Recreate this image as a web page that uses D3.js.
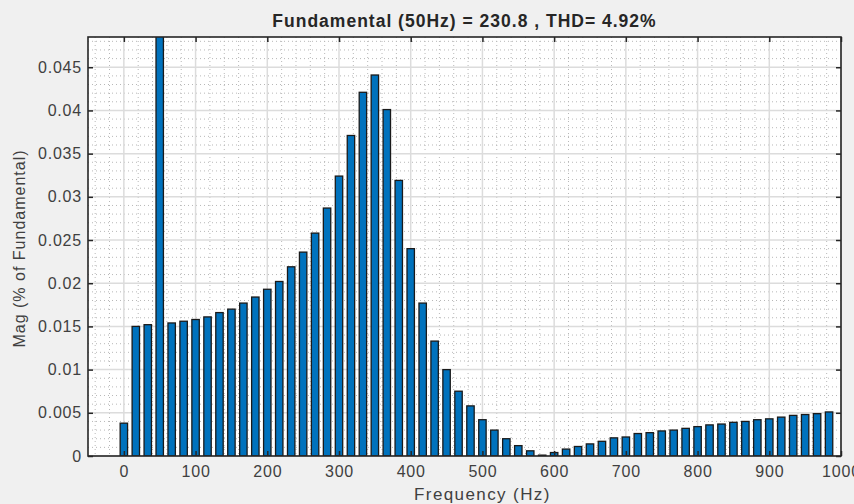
<!DOCTYPE html>
<html>
<head>
<meta charset="utf-8">
<script src="https://cdn.jsdelivr.net/npm/d3@7"></script>
<style>
  body { margin: 0; background: #f0f0f0; }
  svg { display: block; font-family: "Liberation Sans", Arial, sans-serif; }
</style>
</head>
<body>
<div id="chart"></div>
<script>
// harmonic bins every 50/3 Hz, magnitudes in % of fundamental
const binStep = 50 / 3;
const mags = [
  0.0038, 0.0150, 0.0152, 100, 0.0154, 0.0156, 0.0158, 0.0161, 0.0166, 0.0170,
  0.0177, 0.0184, 0.0193, 0.0202, 0.0219, 0.0236, 0.0258, 0.0287, 0.0324, 0.0371,
  0.0421, 0.0441, 0.0401, 0.0319, 0.0240, 0.0177, 0.0133, 0.0100, 0.0075, 0.0058,
  0.0042, 0.0030, 0.0020, 0.0012, 0.0006, 0.0001, 0.0004, 0.0008, 0.0011, 0.0014,
  0.0017, 0.0021, 0.0022, 0.0026, 0.0027, 0.0029, 0.0030, 0.0032, 0.0034, 0.0036,
  0.0037, 0.0039, 0.0040, 0.0042, 0.0043, 0.0045, 0.0047, 0.0048, 0.0049, 0.0051
];
const freqs = mags.map((m, i) => i * binStep);
const xTicks = [0, 100, 200, 300, 400, 500, 600, 700, 800, 900, 1000];
const yTicks = [0, 0.005, 0.01, 0.015, 0.02, 0.025, 0.03, 0.035, 0.04, 0.045];
const title = 'Fundamental (50Hz) = 230.8 , THD= 4.92%';

const W = 854, H = 504;
const margin = {left: 88, right: 13, top: 37, bottom: 48};
const w = W - margin.left - margin.right;
const h = H - margin.top - margin.bottom;

const x = d3.scaleLinear().domain([-50, 1000]).range([0, w]);
const y = d3.scaleLinear().domain([0, 0.0485]).range([h, 0]);

const svg = d3.select('#chart').append('svg')
  .attr('width', W).attr('height', H);

const g = svg.append('g').attr('transform', `translate(${margin.left}, ${margin.top})`);

g.append('rect').attr('width', w).attr('height', h).attr('fill', '#fff');

g.append('clipPath').attr('id', 'clip')
  .append('rect').attr('width', w).attr('height', h);

// minor grid (dotted)
const xMinor = d3.range(-40, 1000, 20).filter(v => v % 100 !== 0);
const yMinor = d3.range(0.001, 0.0485, 0.001).filter(v => Math.abs(v / 0.005 - Math.round(v / 0.005)) > 1e-6);
g.append('g').selectAll('line').data(xMinor).enter().append('line')
  .attr('x1', d => x(d)).attr('x2', d => x(d)).attr('y1', 0).attr('y2', h)
  .attr('stroke', '#b8b8b8').attr('stroke-dasharray', '1,3');
g.append('g').selectAll('line').data(yMinor).enter().append('line')
  .attr('y1', d => y(d)).attr('y2', d => y(d)).attr('x1', 0).attr('x2', w)
  .attr('stroke', '#b8b8b8').attr('stroke-dasharray', '1,3');

// major grid
g.append('g').selectAll('line').data(xTicks).enter().append('line')
  .attr('x1', d => x(d)).attr('x2', d => x(d)).attr('y1', 0).attr('y2', h)
  .attr('stroke', '#dcdcdc').attr('stroke-width', 1.5);
g.append('g').selectAll('line').data(yTicks).enter().append('line')
  .attr('y1', d => y(d)).attr('y2', d => y(d)).attr('x1', 0).attr('x2', w)
  .attr('stroke', '#dcdcdc').attr('stroke-width', 1.5);

// bars
const barW = x(binStep * 0.62) - x(0);
g.append('g').attr('clip-path', 'url(#clip)')
  .selectAll('rect.bar').data(mags).enter().append('rect')
  .attr('class', 'bar')
  .attr('x', (d, i) => x(freqs[i]) - barW / 2)
  .attr('y', d => y(Math.min(d, 0.06)))
  .attr('width', barW)
  .attr('height', d => h - y(Math.min(d, 0.06)))
  .attr('fill', '#0072bd')
  .attr('stroke', '#1a1a1a')
  .attr('stroke-width', 1.3);

// axes with inward ticks on all sides
const axisColor = '#262626';
const fmt = d => d === 0 ? '0' : String(+d.toFixed(4));
const xAxis = g.append('g').attr('transform', `translate(0, ${h})`)
  .call(d3.axisBottom(x).tickValues(xTicks).tickFormat(d3.format('d'))
    .tickSizeInner(-5).tickSizeOuter(0).tickPadding(10));
const yAxis = g.append('g')
  .call(d3.axisLeft(y).tickValues(yTicks).tickFormat(fmt).tickSizeInner(-5).tickSizeOuter(0).tickPadding(6));
const xTop = g.append('g')
  .call(d3.axisTop(x).tickValues(xTicks).tickSizeInner(-5).tickSizeOuter(0).tickFormat(''));
const yRight = g.append('g').attr('transform', `translate(${w}, 0)`)
  .call(d3.axisRight(y).tickValues(yTicks).tickSizeInner(-5).tickSizeOuter(0).tickFormat(''));

[xAxis, yAxis, xTop, yRight].forEach(a => {
  a.select('.domain').remove();
  a.selectAll('.tick line').attr('stroke', axisColor).attr('stroke-width', 1.5);
  a.selectAll('.tick text').attr('fill', '#404040')
    .style('font-size', '16px').style('letter-spacing', '0.8px');
});

g.append('rect').attr('width', w).attr('height', h)
  .attr('fill', 'none').attr('stroke', axisColor).attr('stroke-width', 1.6);

// labels
svg.append('text')
  .attr('x', margin.left + w / 2).attr('y', 27)
  .attr('text-anchor', 'middle')
  .style('font-size', '17.5px').style('font-weight', 'bold')
  .style('letter-spacing', '1px')
  .attr('fill', '#262626')
  .text(title);

svg.append('text')
  .attr('x', margin.left + x(500)).attr('y', 500)
  .attr('text-anchor', 'middle')
  .style('font-size', '17px').style('letter-spacing', '1.4px')
  .attr('fill', '#404040')
  .text('Frequency (Hz)');

svg.append('text')
  .attr('transform', `translate(25, ${margin.top + h / 2 + 2}) rotate(-90)`)
  .attr('text-anchor', 'middle')
  .style('font-size', '16px').style('letter-spacing', '1px')
  .attr('fill', '#404040')
  .text('Mag (% of Fundamental)');
</script>
</body>
</html>
